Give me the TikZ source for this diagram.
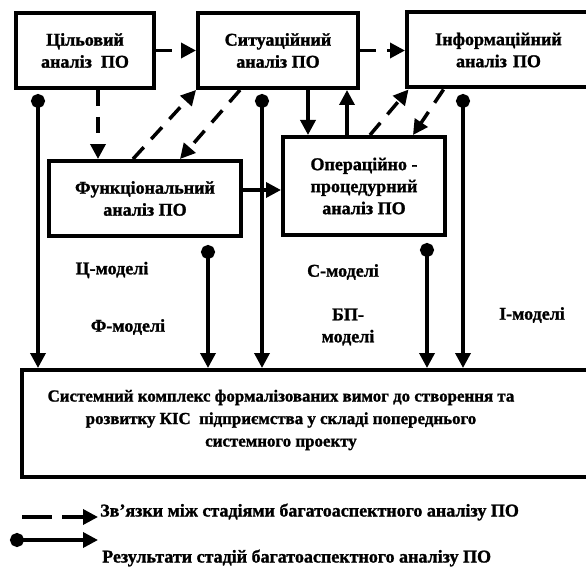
\documentclass[tikz,border=0pt]{standalone}
\usepackage{fontspec}
\setmainfont{Liberation Serif}[BoldFeatures={FakeBold=1.3}]
\usetikzlibrary{arrows.meta}
\tikzset{
  box/.style={draw, line width=4pt, inner sep=0pt, align=center, font=\fontsize{18}{22}\selectfont\bfseries},
  lbl/.style={inner sep=0pt, align=center, font=\fontsize{18}{22}\selectfont\bfseries},
  tip/.style={-{Triangle[length=15pt,width=15pt]}},
  dsh/.style={tip, line width=3.5pt, dash pattern=on 16pt off 11pt},
  sol/.style={tip, line width=3.5pt},
  res/.style={{Circle[length=14pt]}-{Triangle[length=15pt,width=15pt]}, line width=3.5pt}
}
\begin{document}
\begin{tikzpicture}[x=1pt,y=-1pt]
\useasboundingbox[clip] (0,0) rectangle (586,583);
% boxes
\node[box, minimum width=138pt, minimum height=75pt] (cil) at (85,50.5) {Цільовий\\аналіз~ ПО};
\node[box, minimum width=160pt, minimum height=75pt] (sit) at (278,50.5) {Ситуаційний\\аналіз ПО};
\node[box, minimum width=183pt, minimum height=75pt, text width=183pt] (inf) at (498.5,50) {Інформаційний\\аналіз ПО};
\node[box, minimum width=192pt, minimum height=75pt] (func) at (145,198.5) {Функціональний\\аналіз ПО};
\node[box, minimum width=162pt, minimum height=98pt] (op) at (364,186) {Операційно -\\процедурний\\аналіз ПО};
\node[draw, line width=4pt, minimum width=576pt, minimum height=107pt, inner sep=0pt] (sys) at (310,423.5) {};
\node[lbl, font=\fontsize{16.9}{22.5}\selectfont\bfseries] (systxt) at (281,420) {Системний комплекс формалізованих вимог до створення та\\розвитку КІС~ підприємства у складі попереднього\\системного проекту};
% dashed links
\draw[dsh] (cil.east) -- (sit.west);
\draw[dsh] (sit.east) -- (inf.west |- sit.east);
\draw[dsh] ([xshift=13pt]cil.south) -- ([xshift=13pt]cil.south |- func.north);
\draw[dsh] ([xshift=-12pt]func.north) -- ([xshift=-82pt]sit.south);
\draw[dsh] ([xshift=-38pt]sit.south) -- ([xshift=35pt]func.north);
\draw[dsh] ([xshift=6pt]op.north) -- ([xshift=-90pt]inf.south);
\draw[dsh] ([xshift=-55pt]inf.south) -- ([xshift=49pt]op.north);
% solid links
\draw[sol] ([xshift=30pt]sit.south) -- ([xshift=30pt]sit.south |- op.north);
\draw[sol] ([xshift=-17pt]op.north) -- ([xshift=-17pt]op.north |- sit.south);
\draw[sol] ([yshift=8.5pt]func.east) -- ([yshift=8.5pt]func.east -| op.west);
% results
\coordinate (d1) at (38,94);
\coordinate (d2) at (262,94);
\coordinate (d3) at (208,245);
\coordinate (d4) at (427,243);
\coordinate (d5) at (463,94);
\foreach \d in {d1,d2,d3,d4,d5} \draw[res] (\d) -- (\d |- sys.north);
% labels
\node[lbl] (lc) at (112,270) {Ц-моделі};
\node[lbl] (lf) at (128,327) {Ф-моделі};
\node[lbl] (ls) at (343,272) {С-моделі};
\node[lbl] (lb) at (348,327) {БП-\\моделі};
\node[lbl] (li) at (532,315) {І-моделі};
% legend
\coordinate (la) at (22,517);
\coordinate (lb2) at (98,517);
\draw[tip, line width=3.5pt, dash pattern=on 30pt off 10pt] (la) -- (lb2);
\node[lbl, anchor=west] (lt1) at (100,512) {Зв’язки між стадіями багатоаспектного аналізу ПО};
\coordinate (ra) at (10,540);
\coordinate (rb) at (98,540);
\draw[res] (ra) -- (rb);
\node[lbl, anchor=west] (lt2) at (102,558) {Результати стадій багатоаспектного аналізу ПО};
\end{tikzpicture}
\end{document}
